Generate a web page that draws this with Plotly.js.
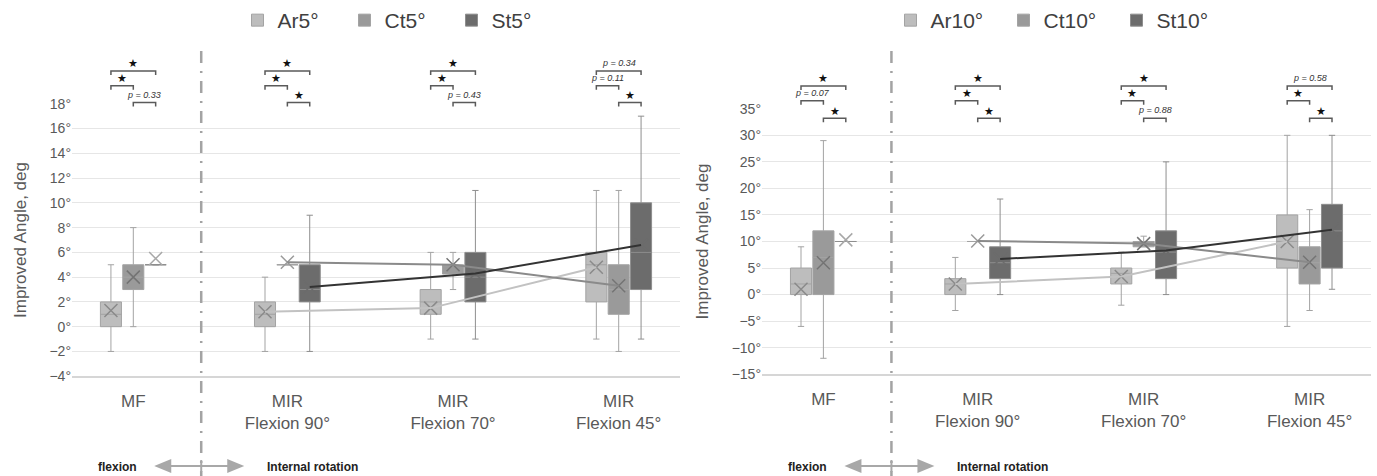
<!DOCTYPE html>
<html>
<head>
<meta charset="utf-8">
<script src="https://cdn.plot.ly/plotly-3.0.1.min.js"></script>
<style>html,body{margin:0;padding:0;background:#fff;}#chart{width:1377px;height:476px;}</style>
</head>
<body>
<div id="chart"></div>
<script>
// ---------------- DATA ----------------
const categories = ['MF', 'MIR<br>Flexion 90°', 'MIR<br>Flexion 70°', 'MIR<br>Flexion 45°'];

// Left panel (5°)
const ar5_q1 = [0, 0, 1, 2];
const ar5_med = [1, 1, 2, 5];
const ar5_q3 = [2, 2, 3, 6];
const ar5_lo = [-2, -2, -1, -1];
const ar5_hi = [5, 4, 6, 11];
const ar5_mean = [1.3, 1.2, 1.5, 4.8];

const ct5_q1 = [3, 5, 4.25, 1];
const ct5_med = [4, 5, 5, 3];
const ct5_q3 = [5, 5, 5, 5];
const ct5_lo = [0, 5, 3, -2];
const ct5_hi = [8, 5, 6, 11];
const ct5_mean = [4.0, 5.2, 5.0, 3.3];

const st5_q1 = [5, 2, 2, 3];
const st5_med = [5, 3, 4, 6];
const st5_q3 = [5, 5, 6, 10];
const st5_lo = [5, -2, -1, -1];
const st5_hi = [5, 9, 11, 17];
const st5_mean = [5.5, 3.2, 4.3, 6.6];

// Right panel (10°)
const ar10_q1 = [0, 0, 2, 5];
const ar10_med = [2, 2, 4, 10];
const ar10_q3 = [5, 3, 5, 15];
const ar10_lo = [-6, -3, -2, -6];
const ar10_hi = [9, 7, 8, 30];
const ar10_mean = [1.0, 2.0, 3.4, 10.0];

const ct10_q1 = [0, 10, 9, 2];
const ct10_med = [7, 10, 9.5, 6];
const ct10_q3 = [12, 10, 10, 9];
const ct10_lo = [-12, 10, 9, -3];
const ct10_hi = [29, 10, 11, 16];
const ct10_mean = [6.0, 10.1, 9.6, 6.1];

const st10_q1 = [10, 3, 3, 5];
const st10_med = [10, 6, 8, 12];
const st10_q3 = [10, 9, 12, 17];
const st10_lo = [10, 0, 0, 1];
const st10_hi = [10, 18, 25, 30];
const st10_mean = [10.3, 6.7, 8.3, 12.2];

const yTicks5 = [-4, -2, 0, 2, 4, 6, 8, 10, 12, 14, 16, 18];
const yTicks10 = [-15, -10, -5, 0, 5, 10, 15, 20, 25, 30, 35];

// significance labels: per category [Ar–St, Ar–Ct, Ct–St]
const sig5 = [
  ['★', '★', 'p = 0.33'],
  ['★', '★', '★'],
  ['★', '★', 'p = 0.43'],
  ['p = 0.34', 'p = 0.11', '★']
];
const sig10 = [
  ['★', 'p = 0.07', '★'],
  ['★', '★', '★'],
  ['★', '★', 'p = 0.88'],
  ['p = 0.58', '★', '★']
];

// ---------------- LAYOUT CONSTANTS ----------------
const W = 1377, H = 476;
const FONT = 'Liberation Sans, Arial, sans-serif';
const PX = p => p / W;
const PY = p => 1 - p / H;
const degLabel = v => (v < 0 ? '\u2212' : '') + Math.abs(v) + '°';

const catPos = [0.07, 1, 2, 3];
const xRange = [-0.30, 3.37];
const offsets = [-0.135, 0, 0.135];
const boxW = 0.127;
const dividerX = 0.48;

const panels = [
  {xa: 'x', ya: 'y', leg: 'legend', rect: [72, 680, 103, 376], yr: [-4, 18], ticks: yTicks5,
   levels: [20.65, 19.45, 18.1], sig: sig5, legX: 398, entryW: 62,
   series: [
     {name: 'Ar5°', q1: ar5_q1, med: ar5_med, q3: ar5_q3, lo: ar5_lo, hi: ar5_hi, mean: ar5_mean},
     {name: 'Ct5°', q1: ct5_q1, med: ct5_med, q3: ct5_q3, lo: ct5_lo, hi: ct5_hi, mean: ct5_mean},
     {name: 'St5°', q1: st5_q1, med: st5_med, q3: st5_q3, lo: st5_lo, hi: st5_hi, mean: st5_mean}
   ]},
  {xa: 'x2', ya: 'y2', leg: 'legend2', rect: [762, 1371, 108, 374], yr: [-15, 35], ticks: yTicks10,
   levels: [39.3, 36.5, 33.2], sig: sig10, legX: 1060, entryW: 68,
   series: [
     {name: 'Ar10°', q1: ar10_q1, med: ar10_med, q3: ar10_q3, lo: ar10_lo, hi: ar10_hi, mean: ar10_mean},
     {name: 'Ct10°', q1: ct10_q1, med: ct10_med, q3: ct10_q3, lo: ct10_lo, hi: ct10_hi, mean: ct10_mean},
     {name: 'St10°', q1: st10_q1, med: st10_med, q3: st10_q3, lo: st10_lo, hi: st10_hi, mean: st10_mean}
   ]}
];

const styles = [
  {fill: '#bdbdbd', line: '#a3a3a3', xIn: '#8a8a8a', xOut: '#a8a8a8', trend: '#c2c2c2', tw: 2},
  {fill: '#9a9a9a', line: '#a3a3a3', xIn: '#747474', xOut: '#9a9a9a', trend: '#8a8a8a', tw: 2},
  {fill: '#6c6c6c', line: '#8e8e8e', xIn: '#6c6c6c', xOut: '#a8a8a8', trend: '#333333', tw: 2}
];

// ---------------- BUILD ----------------
const traces = [];
const shapes = [];
const annotations = [];
const layout = {
  width: W, height: H,
  margin: {l: 0, r: 0, t: 0, b: 0},
  paper_bgcolor: '#ffffff', plot_bgcolor: '#ffffff',
  font: {family: FONT, color: '#595959'},
  boxmode: 'overlay',
  hovermode: false,
  shapes: shapes,
  annotations: annotations
};

panels.forEach((p, pi) => {
  const [x0, x1, y0, y1] = p.rect;
  const toPX = xv => x0 + (xv - xRange[0]) / (xRange[1] - xRange[0]) * (x1 - x0);
  const toPY = yv => y1 - (yv - p.yr[0]) / (p.yr[1] - p.yr[0]) * (y1 - y0);
  const sfx = pi === 0 ? '' : '2';

  layout['xaxis' + sfx] = {
    domain: [PX(x0), PX(x1)], range: xRange, anchor: p.ya,
    tickvals: catPos, ticktext: categories, ticks: '', ticklabelstandoff: 8,
    tickfont: {size: 17, color: '#595959', family: FONT},
    showgrid: false, zeroline: false,
    showline: true, linecolor: '#d6d6d6', linewidth: 2, fixedrange: true
  };
  layout['yaxis' + sfx] = {
    domain: [PY(y1), PY(y0)], range: p.yr, anchor: p.xa,
    tickvals: p.ticks, ticktext: p.ticks.map(degLabel), ticks: '',
    tickfont: {size: 14, color: '#595959', family: FONT},
    showgrid: true, gridcolor: '#e6e6e6', gridwidth: 1, zeroline: false,
    title: {text: 'Improved Angle, deg', font: {size: 17, color: '#595959', family: FONT}, standoff: 18},
    fixedrange: true
  };

  p.series.forEach((s, si) => {
    const st = styles[si];
    const xs = catPos.map(c => c + offsets[si]);
    traces.push({
      type: 'box', name: s.name, legend: p.leg, xaxis: p.xa, yaxis: p.ya,
      x: xs, q1: s.q1, median: s.med, q3: s.q3, lowerfence: s.lo, upperfence: s.hi,
      width: boxW, whiskerwidth: 0.3, boxpoints: false,
      fillcolor: st.fill, line: {color: st.line, width: 1}
    });
  });
  // mean markers
  p.series.forEach((s, si) => {
    const st = styles[si];
    const xs = catPos.map(c => c + offsets[si]);
    const cols = s.mean.map((m, i) => (s.q3[i] > s.q1[i] && m >= s.q1[i] && m <= s.q3[i]) ? st.xIn : st.xOut);
    traces.push({
      type: 'scatter', mode: 'markers', showlegend: false, xaxis: p.xa, yaxis: p.ya,
      x: xs, y: s.mean, cliponaxis: false,
      marker: {symbol: 'x-thin-open', size: 13, color: cols, line: {color: cols, width: 1.5}}
    });
  });
  // trend lines connecting means across MIR categories
  p.series.forEach((s, si) => {
    const st = styles[si];
    const xs = catPos.map(c => c + offsets[si]).slice(1);
    traces.push({
      type: 'scatter', mode: 'lines', showlegend: false, xaxis: p.xa, yaxis: p.ya,
      x: xs, y: s.mean.slice(1), line: {color: st.trend, width: st.tw}
    });
  });

  // legend
  layout[p.leg] = {
    orientation: 'h', x: PX(p.legX), xanchor: 'center',
    y: PY(20), yanchor: 'middle', font: {size: 21, color: '#404040', family: FONT},
    itemwidth: 30, entrywidth: p.entryW, entrywidthmode: 'pixels',
    bgcolor: 'rgba(0,0,0,0)', traceorder: 'normal'
  };

  // significance brackets
  const pairs = [[0, 2], [0, 1], [1, 2]];
  catPos.forEach((c, ci) => {
    pairs.forEach((pr, li) => {
      const xa = toPX(c + offsets[pr[0]]);
      const xb = toPX(c + offsets[pr[1]]);
      const yl = toPY(p.levels[li]);
      shapes.push({
        type: 'path', xref: 'paper', yref: 'paper',
        path: `M${PX(xa)},${PY(yl + 4)} L${PX(xa)},${PY(yl)} L${PX(xb)},${PY(yl)} L${PX(xb)},${PY(yl + 4)}`,
        line: {color: '#5a5a5a', width: 1.5}
      });
      const lab = p.sig[ci][li];
      const isStar = lab === '★';
      annotations.push({
        xref: 'paper', yref: 'paper', x: PX((xa + xb) / 2), y: PY(yl - (isStar ? 7 : 8)),
        text: isStar ? lab : '<i>' + lab + '</i>', showarrow: false,
        xanchor: 'center', yanchor: 'middle',
        font: {size: isStar ? 11 : 9, color: isStar ? '#111' : '#333', family: isStar ? 'DejaVu Sans' : FONT}
      });
    });
  });

  // divider
  const dpx = toPX(dividerX);
  const dx = PX(dpx);
  shapes.push({
    type: 'line', xref: 'paper', yref: 'paper', x0: dx, x1: dx, y0: PY(50), y1: PY(476),
    line: {color: '#a3a3a3', width: 2.5, dash: '12px,8px,2px,8px'}
  });
  // bottom double arrow
  const ay = 466, aL = dpx - 47, aR = dpx + 43;
  shapes.push({type: 'line', xref: 'paper', yref: 'paper', x0: PX(aL + 10), x1: PX(aR - 10), y0: PY(ay), y1: PY(ay),
    line: {color: '#a8a8a8', width: 2}});
  shapes.push({type: 'path', xref: 'paper', yref: 'paper',
    path: `M${PX(aL)},${PY(ay)} L${PX(aL + 17)},${PY(ay - 7)} L${PX(aL + 17)},${PY(ay + 7)} Z`,
    fillcolor: '#a8a8a8', line: {width: 0}});
  shapes.push({type: 'path', xref: 'paper', yref: 'paper',
    path: `M${PX(aR)},${PY(ay)} L${PX(aR - 17)},${PY(ay - 7)} L${PX(aR - 17)},${PY(ay + 7)} Z`,
    fillcolor: '#a8a8a8', line: {width: 0}});
  shapes.push({type: 'line', xref: 'paper', yref: 'paper', x0: dx, x1: dx, y0: PY(460), y1: PY(472),
    line: {color: '#a8a8a8', width: 2}});
  annotations.push({xref: 'paper', yref: 'paper', x: PX(dpx - 84), y: PY(467), text: '<b>flexion</b>',
    showarrow: false, xanchor: 'center', yanchor: 'middle', font: {size: 12, color: '#222', family: FONT}});
  annotations.push({xref: 'paper', yref: 'paper', x: PX(dpx + 64), y: PY(467), text: '<b>Internal rotation</b>',
    showarrow: false, xanchor: 'left', yanchor: 'middle', font: {size: 12, color: '#222', family: FONT}});
});

Plotly.newPlot('chart', traces, layout, {displayModeBar: false, staticPlot: true});
</script>
</body>
</html>
